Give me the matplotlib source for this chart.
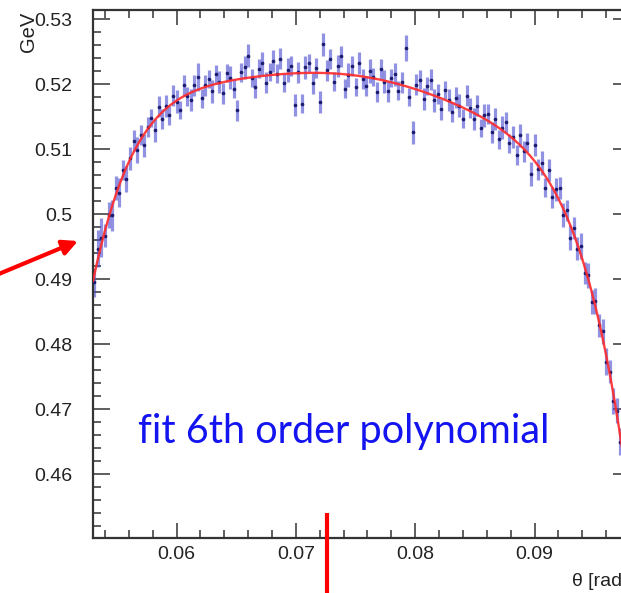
import numpy as np
import matplotlib
matplotlib.use("Agg")
import matplotlib.pyplot as plt
from matplotlib.ticker import MultipleLocator, FormatStrFormatter

# theta bins [rad], 0.0003 wide
theta = np.round(np.arange(150) * 0.0003 + 0.0531, 5)

# reconstructed mass per bin [GeV]
mass = [
    0.4895, 0.4947, 0.4964, 0.4967, 0.4998, 0.4998, 0.5040, 0.5033, 0.5068, 0.5054,
    0.5086, 0.5113, 0.5098, 0.5122, 0.5106, 0.5134, 0.5148, 0.5129, 0.5165, 0.5146,
    0.5167, 0.5152, 0.5182, 0.5173, 0.5160, 0.5198, 0.5181, 0.5176, 0.5198, 0.5211,
    0.5178, 0.5198, 0.5208, 0.5189, 0.5215, 0.5203, 0.5186, 0.5217, 0.5210, 0.5193,
    0.5160, 0.5218, 0.5226, 0.5244, 0.5210, 0.5195, 0.5224, 0.5232, 0.5202, 0.5219,
    0.5236, 0.5216, 0.5239, 0.5202, 0.5222, 0.5228, 0.5168, 0.5218, 0.5170, 0.5226,
    0.5233, 0.5201, 0.5225, 0.5173, 0.5261, 0.5221, 0.5239, 0.5204, 0.5228, 0.5243,
    0.5193, 0.5214, 0.5228, 0.5195, 0.5232, 0.5208, 0.5197, 0.5220, 0.5211, 0.5188,
    0.5223, 0.5204, 0.5189, 0.5210, 0.5215, 0.5190, 0.5203, 0.5255, 0.5180, 0.5126,
    0.5199, 0.5207, 0.5177, 0.5197, 0.5207, 0.5175, 0.5185, 0.5161, 0.5191, 0.5175,
    0.5157, 0.5179, 0.5167, 0.5147, 0.5182, 0.5163, 0.5146, 0.5167, 0.5133, 0.5152,
    0.5154, 0.5126, 0.5146, 0.5115, 0.5133, 0.5141, 0.5109, 0.5119, 0.5091, 0.5121,
    0.5097, 0.5110, 0.5062, 0.5106, 0.5069, 0.5079, 0.5041, 0.5068, 0.5026, 0.5038,
    0.5040, 0.4999, 0.5006, 0.4964, 0.4979, 0.4947, 0.4951, 0.4910, 0.4906, 0.4865,
    0.4867, 0.4829, 0.4820, 0.4773, 0.4758, 0.4712, 0.4698, 0.4650, 0.4630, 0.4578,
]

# statistical error per bin, units of 1e-4 GeV
err = [
    22, 28, 30, 18, 20, 24, 18, 22, 16, 20,
    18, 16, 20, 15, 18, 16, 14, 18, 16, 15,
    17, 15, 16, 18, 14, 16, 15, 17, 16, 22,
    15, 16, 14, 18, 15, 17, 16, 14, 18, 15,
    16, 15, 18, 17, 14, 16, 15, 18, 16, 14,
    17, 15, 16, 14, 18, 15, 17, 16, 15, 18,
    14, 16, 15, 17, 18, 16, 15, 14, 17, 16,
    15, 18, 16, 14, 17, 15, 16, 18, 14, 16,
    15, 17, 16, 14, 18, 15, 16, 20, 14, 18,
    16, 15, 17, 14, 16, 18, 15, 16, 14, 17,
    15, 16, 18, 14, 16, 15, 17, 16, 14, 18,
    15, 16, 17, 14, 18, 16, 15, 17, 16, 18,
    16, 15, 18, 17, 16, 18, 15, 17, 16, 18,
    17, 18, 16, 19, 17, 18, 20, 17, 19, 18,
    20, 18, 19, 21, 18, 20, 19, 21, 20, 22,
]

mass = np.array(mass)
err = np.array(err) * 1e-4

xlim = (0.053, 0.098)
ylim = (0.4502, 0.5314)

plt.rcParams["font.family"] = ["Liberation Sans", "DejaVu Sans"]

fig = plt.figure(figsize=(6.21, 5.93), dpi=100)
ax = fig.add_axes([93 / 621, 55 / 593, 537 / 621, 528 / 593])

ax.errorbar(theta, mass, yerr=err, fmt="none", ecolor="#4a4ad0",
            elinewidth=2.3, alpha=0.6, zorder=2)
ax.plot(theta, mass, "o", color="#1c1c70", ms=1.6, zorder=3)

# 6th order polynomial fit
fit = np.polynomial.Polynomial.fit(theta, mass, 6, w=1 / err)
xf = np.linspace(xlim[0], xlim[1], 400)
ax.plot(xf, fit(xf), color="#ff2a2a", lw=1.7, alpha=0.9, zorder=4)

ax.set_xlim(*xlim)
ax.set_ylim(*ylim)

ax.xaxis.set_major_locator(MultipleLocator(0.01))
ax.xaxis.set_minor_locator(MultipleLocator(0.002))
ax.yaxis.set_major_locator(MultipleLocator(0.01))
ax.yaxis.set_minor_locator(MultipleLocator(0.002))
ax.xaxis.set_major_formatter(FormatStrFormatter("%g"))
ax.yaxis.set_major_formatter(FormatStrFormatter("%g"))

ax.tick_params(which="both", direction="in", top=True, right=True,
               color="#333333", width=1.1, labelsize=14, labelcolor="#222222")
ax.tick_params(axis="x", which="major", length=10.8, pad=5.5)
ax.tick_params(axis="x", which="minor", length=5.8)
ax.tick_params(axis="y", which="major", length=12.2, pad=15)
ax.tick_params(axis="y", which="minor", length=5.8)
for s in ax.spines.values():
    s.set_linewidth(1.6)
    s.set_color("#333333")

ax.text(-0.12, 0.996, "GeV", transform=ax.transAxes, rotation=90,
        ha="center", va="top", fontsize=14.5, color="#222222")
ax.text(0.995, -0.066, "θ [rad]", transform=ax.transAxes,
        ha="right", va="top", fontsize=14, color="#222222", clip_on=False)

ax.text(0.05677, 0.4648, "fit 6th order polynomial", family="Lato",
        fontsize=28.5, color="#1414f0", va="baseline")

# marker line below the axis and arrow onto the y axis
ax.plot([0.0726, 0.0726], [0.454, 0.440], color="#ff0000", lw=3,
        clip_on=False, solid_capstyle="butt", zorder=5)
ax.annotate("", xy=(78, 352), xycoords="figure pixels",
            xytext=(-6, 317), textcoords="figure pixels",
            arrowprops=dict(arrowstyle="-|>,head_length=0.9,head_width=0.45",
                            color="#ff0000", lw=3, shrinkA=0, shrinkB=0))

fig.savefig("out.png", dpi=100, facecolor="white")
